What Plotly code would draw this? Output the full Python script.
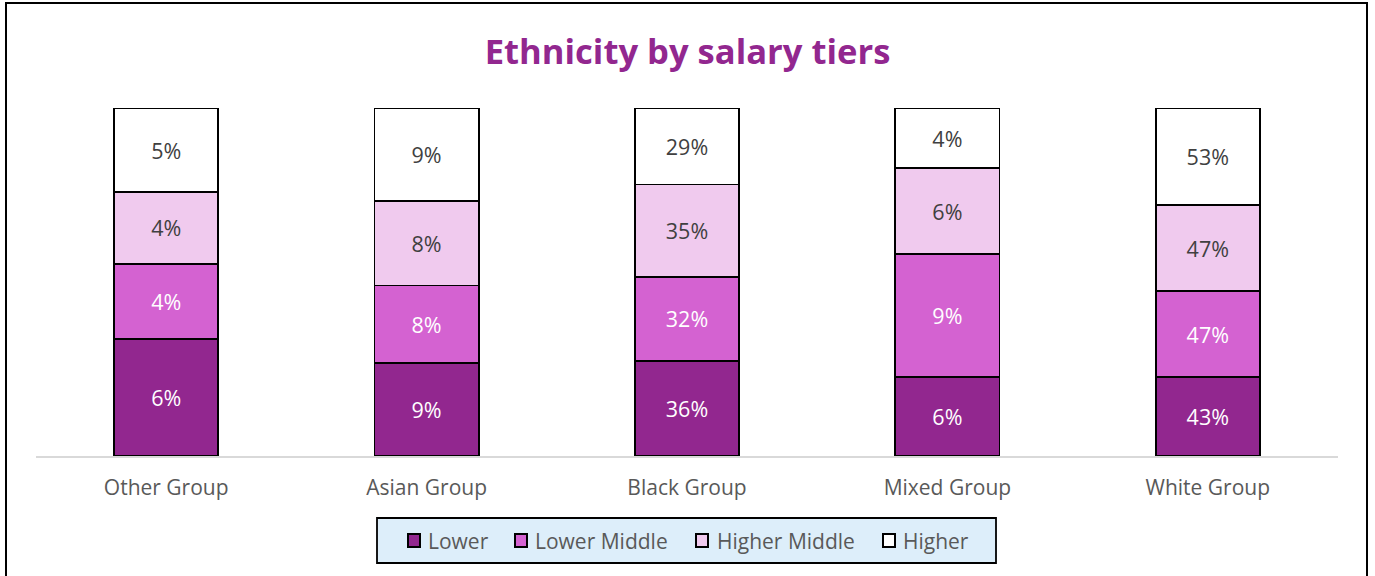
import plotly.graph_objects as go

# Ethnic groups and salary-tier shares (percent of each tier held by the group)
groups = ["Other Group", "Asian Group", "Black Group", "Mixed Group", "White Group"]
tiers = ["Lower", "Lower Middle", "Higher Middle", "Higher"]
lower = [6.4, 9.1, 36, 5.8, 43]
lower_middle = [4.1, 7.6, 32, 9.0, 47]
higher_middle = [3.9, 8.3, 35, 6.3, 47]
higher = [4.6, 9.1, 29, 4.4, 53]

series = [lower, lower_middle, higher_middle, higher]
fills = ["#92278F", "#D462D1", "#F0CAEE", "#FFFFFF"]
label_colors = ["#FFFFFF", "#FFFFFF", "#404040", "#404040"]

W, H = 1375, 576
L, R, T, B = 36, 37, 108, 120
pw, ph = W - L - R, H - T - B

FONT = "Open Sans"


def px_x(v):
    return (v - L) / pw


def px_y(v):
    return (H - B - v) / ph


fig = go.Figure()
for name, vals, fill, lc in zip(tiers, series, fills, label_colors):
    fig.add_trace(go.Bar(
        name=name,
        x=groups,
        y=vals,
        marker=dict(color=fill, line=dict(color="#000000", width=1.8)),
        texttemplate="%{y:.0f}%",
        textposition="inside",
        insidetextanchor="middle",
        textangle=0,
        textfont=dict(family=FONT, size=21.5, color=lc),
        hoverinfo="skip",
        showlegend=False,
    ))

# Legend drawn as a boxed row of swatches and labels beneath the axis
legend_box = (377, 518, 996, 563)
swatch_left = [407, 514, 695, 882]
label_left = [427, 534, 716, 902]
swatch_size = 14
legend_mid = 540.5

shapes = [
    # outer chart frame
    dict(
        type="rect", xref="paper", yref="paper",
        x0=px_x(6), x1=px_x(1367), y0=px_y(590), y1=px_y(3),
        line=dict(color="#000000", width=2),
        fillcolor="rgba(0,0,0,0)", layer="below",
    ),
    dict(
        type="rect", xref="paper", yref="paper",
        x0=px_x(legend_box[0]), x1=px_x(legend_box[2]),
        y0=px_y(legend_box[3]), y1=px_y(legend_box[1]),
        line=dict(color="#000000", width=1.8),
        fillcolor="#DDEEFA",
    ),
]
annotations = []
for name, fill, sx, tx in zip(tiers, fills, swatch_left, label_left):
    shapes.append(dict(
        type="rect", xref="paper", yref="paper",
        x0=px_x(sx + 1), x1=px_x(sx + swatch_size - 1),
        y0=px_y(legend_mid + swatch_size / 2 - 0.5), y1=px_y(legend_mid - swatch_size / 2 + 0.5),
        line=dict(color="#000000", width=2),
        fillcolor=fill,
    ))
    annotations.append(dict(
        text=name, xref="paper", yref="paper",
        x=px_x(tx), y=px_y(legend_mid),
        xanchor="left", yanchor="middle",
        showarrow=False, borderpad=0,
        font=dict(family=FONT, size=21, color="#595959"),
    ))

fig.update_layout(
    width=W,
    height=H,
    barmode="stack",
    barnorm="percent",
    bargap=0.6,
    margin=dict(l=L, r=R, t=T, b=B, pad=0),
    paper_bgcolor="#FFFFFF",
    plot_bgcolor="#FFFFFF",
    font=dict(family=FONT, color="#595959"),
    showlegend=False,
    title=dict(
        text="<b>Ethnicity by salary tiers</b>",
        x=0.5,
        xanchor="center",
        y=1 - 52 / H,
        yanchor="middle",
        font=dict(family=FONT, size=34.6, color="#92278F"),
    ),
    xaxis=dict(
        showline=True,
        linecolor="#D9D9D9",
        linewidth=1.5,
        ticks="",
        showgrid=False,
        tickfont=dict(family=FONT, size=21, color="#595959"),
        ticklabelstandoff=12,
    ),
    yaxis=dict(
        range=[0, 100],
        visible=False,
        showgrid=False,
        zeroline=False,
    ),
    shapes=shapes,
    annotations=annotations,
)

fig.write_html("out.html")
